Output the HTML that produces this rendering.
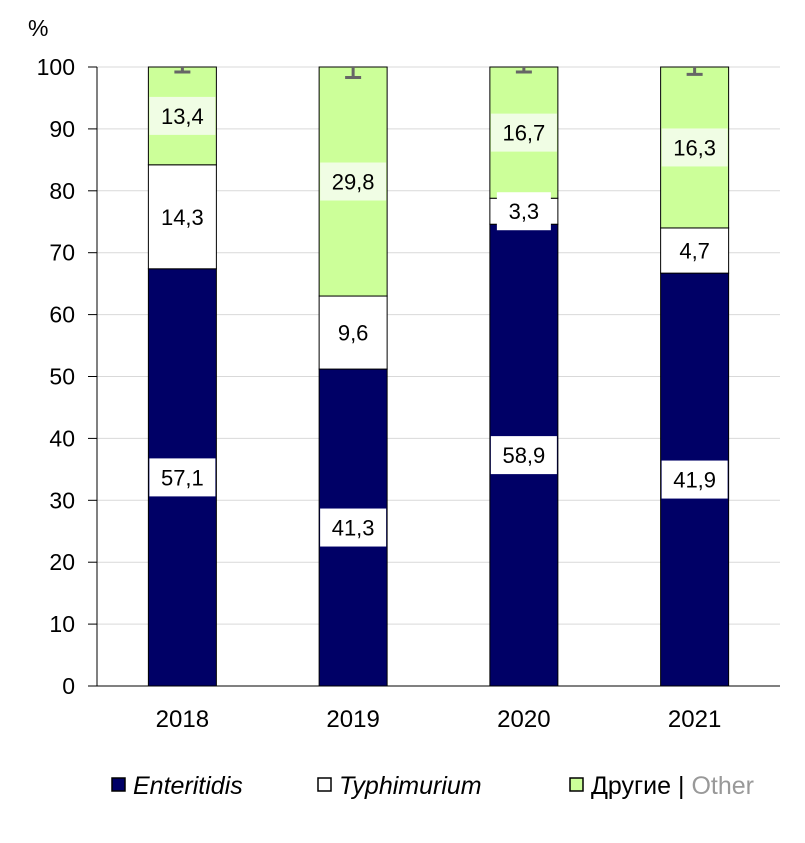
<!DOCTYPE html>
<html><head><meta charset="utf-8"><style>
body{margin:0;background:#fff;font-family:"Liberation Sans",sans-serif}
</style></head><body>
<svg id="c" width="805" height="838" xmlns="http://www.w3.org/2000/svg" font-family="Liberation Sans, DejaVu Sans, sans-serif"></svg>
<script>
const categories=["2018","2019","2020","2021"];
const enteritidis=[67.4,51.2,74.6,66.7];
const typhimurium=[16.8,11.8,4.2,7.3];
const other=[15.8,37.0,21.2,26.0];
const errLow=[99.2,98.3,99.2,98.8];
const labEnt=["57,1","41,3","58,9","41,9"];
const labTyp=["14,3","9,6","3,3","4,7"];
const labOth=["13,4","29,8","16,7","16,3"];
const yTicks=[0,10,20,30,40,50,60,70,80,90,100];

const svg=document.getElementById('c');
const NS="http://www.w3.org/2000/svg";
const x0=97,x1=780,yTop=67,yBot=686;
const y=v=>yBot-(yBot-yTop)*v/100;
const step=(x1-x0)/categories.length;
const cx=i=>x0+step*(i+0.5);
const bw=68;
function mk(t,a,txt){const e=document.createElementNS(NS,t);for(const k in a)e.setAttribute(k,a[k]);if(txt!=null)e.textContent=txt;svg.appendChild(e);return e;}

yTicks.forEach(t=>{
 const g=mk('line',{x1:x0,x2:x1,y1:y(t),y2:y(t),stroke:'#d9d9d9','stroke-width':1});
 
 
 mk('line',{x1:88,x2:x0,y1:y(t),y2:y(t),stroke:'#000'});
 const l=mk('text',{x:75,y:y(t)+8,'text-anchor':'end','font-size':23},t);
 
 
});
mk('line',{x1:x0,x2:x0,y1:yTop,y2:yBot,stroke:'#000'});
mk('line',{x1:x0,x2:x1,y1:yBot,y2:yBot,stroke:'#000'});
const yt=mk('text',{x:28,y:36,'font-size':23},'%');



function label(xc,yc,txt,bg){
 const w=txt.length*12+18;
 const r=mk('rect',{x:xc-w/2,y:yc-19,width:w,height:38,fill:bg});
 
 
 const t=mk('text',{x:xc,y:yc+8,'text-anchor':'middle','font-size':22},txt);
 
 
}

categories.forEach((c,i)=>{
 const xl=cx(i)-bw/2;
 const e=enteritidis[i],t=typhimurium[i],o=other[i];
 const r1=mk('rect',{x:xl,y:y(e),width:bw,height:y(0)-y(e),fill:'#000066',stroke:'#000'});
 
 
 const r2=mk('rect',{x:xl,y:y(e+t),width:bw,height:y(e)-y(e+t),fill:'#fff',stroke:'#000'});
 
 
 const r3=mk('rect',{x:xl,y:y(e+t+o),width:bw,height:y(e+t)-y(e+t+o),fill:'#ccff99',stroke:'#000'});
 
 
 const top=e+t+o;
 const eb=mk('path',{d:`M${cx(i)} ${y(top)}V${y(errLow[i])}M${cx(i)-8} ${y(errLow[i])}H${cx(i)+8}`,stroke:'#666','stroke-width':3,fill:'none'});
 
 
 label(cx(i),y(e/2),labEnt[i],'#fff');
 label(cx(i),y(e+t/2),labTyp[i],'#fff');
 label(cx(i),y(e+t+o/2),labOth[i],'#f0fde4');
 const xl2=mk('text',{x:cx(i),y:727,'text-anchor':'middle','font-size':24},c);
 
 
});

function leg(x,fill,parts){
 const r=mk('rect',{x:x,y:778,width:13,height:13,fill:fill,stroke:'#000','stroke-width':1.5});
 
 
 const t=mk('text',{x:x+21,y:794,'font-size':25});
 
 
 parts.forEach(p=>{const s=document.createElementNS(NS,'tspan');s.textContent=p[0];if(p[1])s.setAttribute('font-style','italic');if(p[2])s.setAttribute('fill',p[2]);t.appendChild(s);});
}
leg(112,'#000066',[["Enteritidis",1]]);
leg(318,'#fff',[["Typhimurium",1]]);
leg(570,'#ccff99',[["Другие | "],["Other",0,"#999"]]);
</script>
</body></html>
